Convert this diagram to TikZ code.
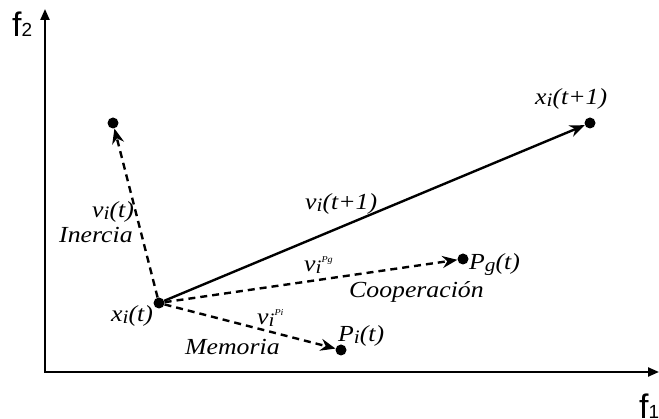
\documentclass[tikz,border=0pt]{standalone}
\usepackage{fontspec}
\setmainfont{Liberation Serif}
\newfontfamily\lblfont[FakeStretch=1.12]{Liberation Serif}
\newfontfamily\axfont{Liberation Sans}
\usetikzlibrary{arrows.meta}
\newcommand\lsub[1]{{\fontsize{19}{19}\selectfont\raisebox{-1.5pt}{#1}}}
\newcommand\lsup[1]{{\fontsize{9}{9}\selectfont\raisebox{9pt}{#1}}}
\tikzset{
  dotnode/.style={circle,fill=black,inner sep=0pt,minimum size=11pt},
  lab/.style={inner sep=0pt,anchor=base west,font=\lblfont\itshape\fontsize{23}{23}\selectfont},
  axlab/.style={inner sep=0pt,anchor=base west},
  axisline/.style={line width=2.2pt,{Triangle[length=11pt,width=9pt]}-{Triangle[length=11pt,width=9pt]}},
  solidvec/.style={line width=2.4pt,-{Stealth[length=15pt,width=12pt]}},
  dashvec/.style={line width=2.4pt,dash pattern=on 7pt off 5pt,-{Stealth[length=15pt,width=12pt]}},
}
\begin{document}
\begin{tikzpicture}[x=1pt,y=-1pt]
\useasboundingbox (0,0) rectangle (659,419);
% axes
\coordinate (ytip) at (45,9);
\coordinate (xtip) at (659,372);
\draw[axisline] (ytip) |- (xtip);
\node[axlab] (f2) at (12,37) {\axfont\fontsize{34}{34}\selectfont f\fontsize{19}{19}\selectfont 2};
\node[axlab] (f1) at (639,419) {\axfont\fontsize{34}{34}\selectfont f\fontsize{19}{19}\selectfont 1};
% points
\node[dotnode] (xt) at (159,303) {};
\node[dotnode] (inr) at (113,123) {};
\node[dotnode] (xt1) at (590,123) {};
\node[dotnode] (pg) at (463,259) {};
\node[dotnode] (pi) at (341,350) {};
% vectors
\draw[solidvec] (xt) -- (xt1);
\draw[dashvec] (xt) -- (inr);
\draw[dashvec] (xt) -- (pg);
\draw[dashvec] (xt) -- (pi);
% labels
\node[lab] (lxt1) at (535,105) {x\lsub{i}(t+1)};
\node[lab] (lvt1) at (305,210) {v\lsub{i}(t+1)};
\node[lab] (lvit) at (92,218) {v\lsub{i}(t)};
\node[lab] (liner) at (59,243) {Inercia};
\node[lab] (lxt) at (111,322) {x\lsub{i}(t)};
\node[lab] (lvpg) at (304,272) {v\lsub{i}\lsup{Pg}};
\node[lab] (lcoop) at (349,298) {Cooperación};
\node[lab] (lpg) at (469,270) {P\lsub{g}(t)};
\node[lab] (lpi) at (338,342) {P\lsub{i}(t)};
\node[lab] (lvpi) at (257,325) {v\lsub{i}\lsup{Pi}};
\node[lab] (lmem) at (185,355) {Memoria};
\end{tikzpicture}
\end{document}
